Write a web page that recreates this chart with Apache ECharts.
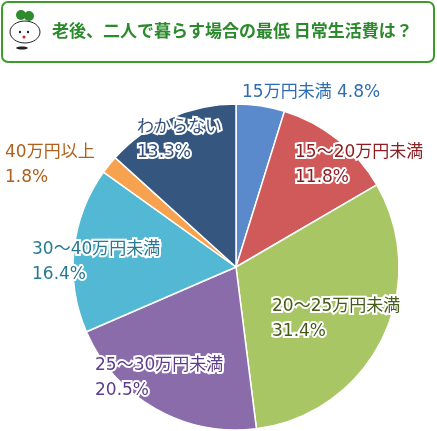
<!DOCTYPE html>
<html><head><meta charset="utf-8">
<script src="https://cdn.jsdelivr.net/npm/echarts@6/dist/echarts.min.js"></script>
<style>html,body{margin:0;padding:0;background:#fff}#c{width:437px;height:431px}</style>
</head><body><div id="c"></div>
<script>
const categories = ['15万円未満', '15～20万円未満', '20～25万円未満', '25～30万円未満', '30～40万円未満', '40万円以上', 'わからない'];
const values = [4.8, 11.8, 31.4, 20.5, 16.4, 1.8, 13.3];
const sliceColors = ['#5a8acb', '#d05a5a', '#a8c764', '#8a6cab', '#52b8d4', '#f7a24f', '#35577f'];
const labelColors = ['#2f6db3', '#8c1f22', '#465a19', '#5d3d8c', '#277a90', '#b0601b', '#34507a'];
// label anchor [x, y, oneLine]
const labelPos = [[240, 91, true], [293, 151], [270, 305], [93, 364], [30, 248], [3, 151], [135, 126]];

const chart = echarts.init(document.getElementById('c'));
const font = '"DejaVu Sans", "Noto Sans CJK JP", sans-serif';

const labels = categories.map((c, i) => {
  const p = labelPos[i];
  const txt = p[2] ? c + ' ' + values[i] + '%' : c + '\n' + values[i] + '%';
  return {
    type: 'text', left: p[0], top: p[1] - 11, z: 10,
    style: {
      text: txt, fill: labelColors[i], font: '17px ' + font, lineHeight: 25,
      stroke: '#fff', lineWidth: 4
    }
  };
});

chart.setOption({
  animation: false,
  graphic: [
    { type: 'rect', shape: { x: 2, y: 2, width: 432, height: 60, r: 6 },
      style: { fill: '#fff', stroke: '#3d9a2c', lineWidth: 2 } },
    { type: 'text', left: 52, top: 22,
      style: { text: '老後、二人で暮らす場合の最低 日常生活費は？', fill: '#2b8a2b', font: 'bold 17px "Noto Sans CJK JP", sans-serif' } },
    // mascot
    { type: 'ellipse', shape: { cx: 25, cy: 32, rx: 15, ry: 11 }, style: { fill: '#fff', stroke: '#222', lineWidth: 1 } },
    { type: 'circle', shape: { cx: 21, cy: 15, r: 5 }, style: { fill: '#2e8b2e' } },
    { type: 'circle', shape: { cx: 29, cy: 16, r: 5 }, style: { fill: '#2e8b2e' } },
    { type: 'circle', shape: { cx: 20, cy: 32, r: 1.2 }, style: { fill: '#222' } },
    { type: 'circle', shape: { cx: 28, cy: 32, r: 1.2 }, style: { fill: '#222' } },
    { type: 'circle', shape: { cx: 24, cy: 37, r: 1.5 }, style: { fill: '#e02020' } },
    { type: 'ellipse', shape: { cx: 22, cy: 48, rx: 6, ry: 1.5 }, style: { fill: '#222' } }
  ].concat(labels),
  series: [{
    type: 'pie',
    center: [236, 267],
    radius: [0, 163],
    startAngle: 90,
    clockwise: true,
    label: { show: false },
    labelLine: { show: false },
    itemStyle: { borderColor: '#fff', borderWidth: 1.5 },
    data: categories.map((c, i) => ({ name: c, value: values[i], itemStyle: { color: sliceColors[i] } }))
  }]
});
</script></body></html>
